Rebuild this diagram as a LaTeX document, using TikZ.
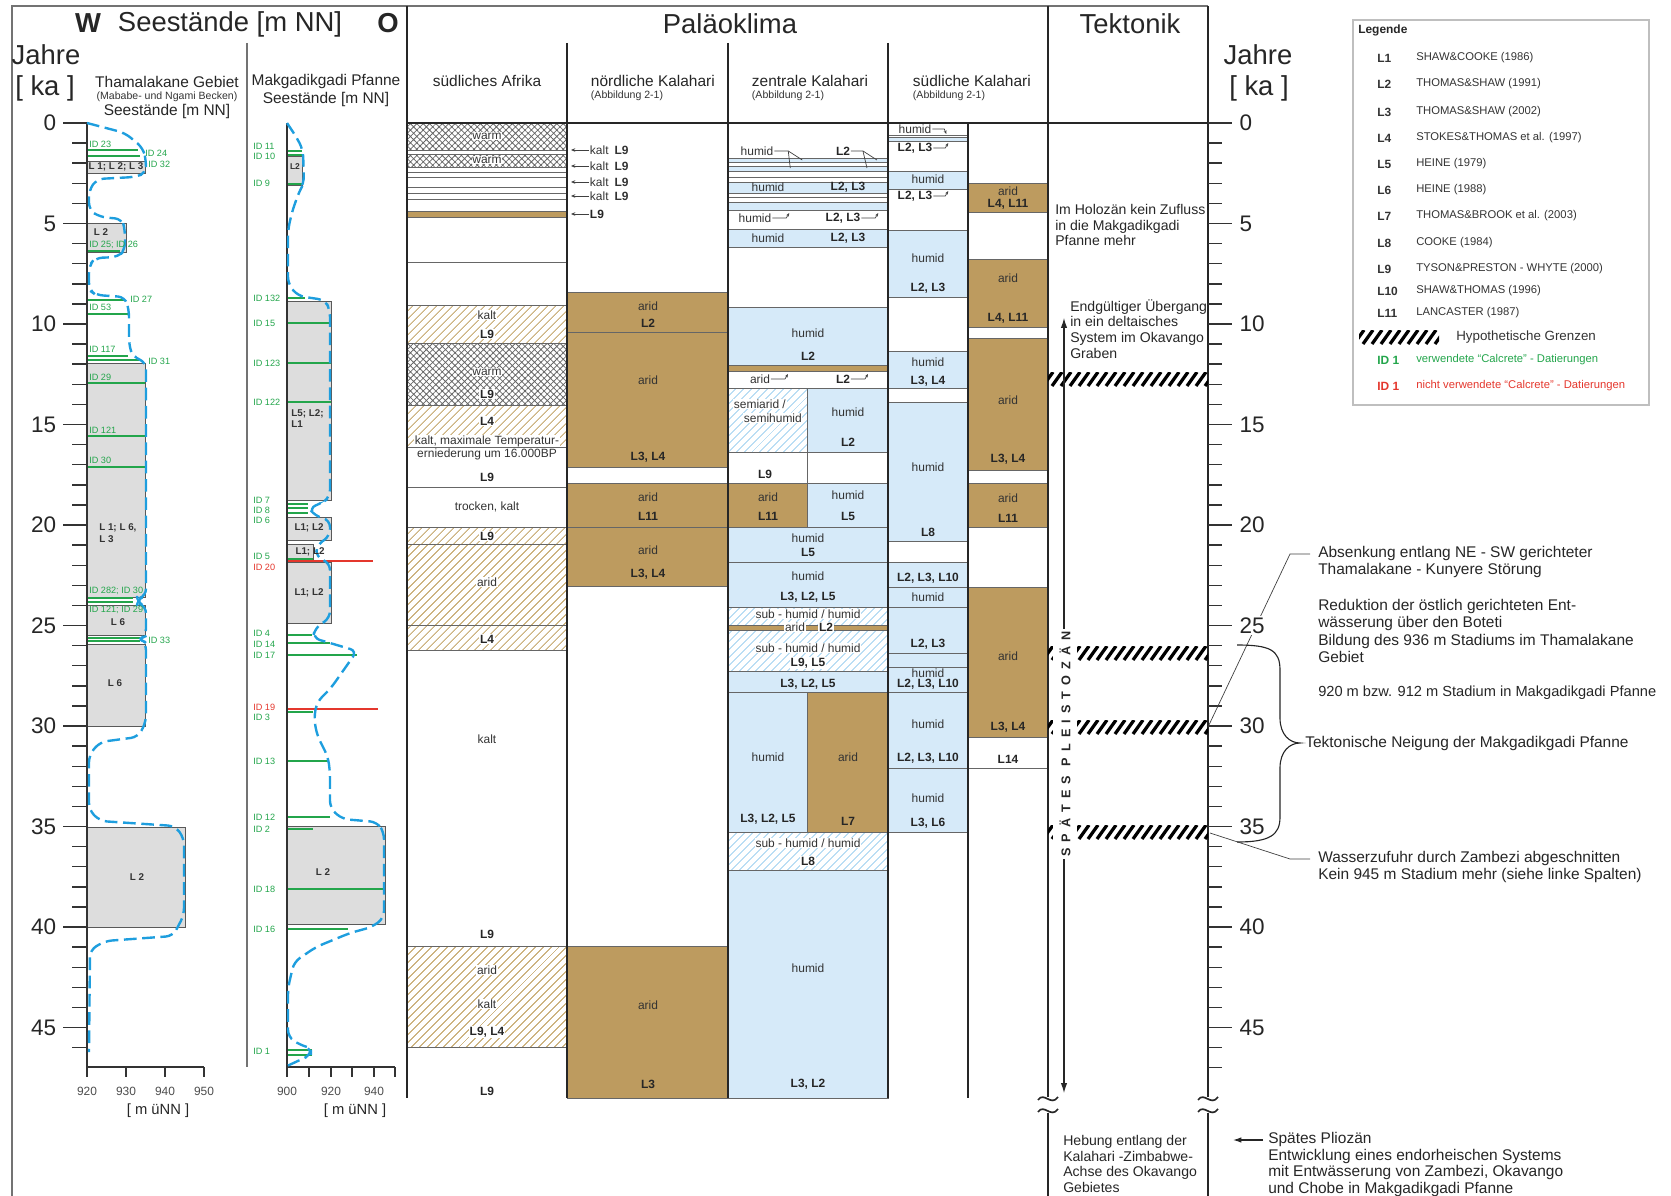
\documentclass[tikz,border=0pt]{standalone}
\usepackage{fontspec}
\setmainfont{Liberation Sans}
\usetikzlibrary{arrows.meta}
\usetikzlibrary{patterns.meta}
\definecolor{aridbraun}{RGB}{189,155,95}
\definecolor{humidblau}{RGB}{214,234,249}
\definecolor{hatchblau}{RGB}{150,205,238}
\definecolor{hatchbraun}{RGB}{205,180,130}
\definecolor{seeblau}{RGB}{30,158,222}
\definecolor{idgruen}{RGB}{35,165,75}
\definecolor{idrot}{RGB}{228,55,45}
\definecolor{kastengrau}{RGB}{221,221,221}
\tikzset{
	aridstyle/.style={fill=aridbraun,draw=black!60,line width=0.6pt},
	humidstyle/.style={fill=humidblau,draw=black!60,line width=0.6pt},
	leerstyle/.style={draw=black!60,line width=0.6pt},
	subhumidstyle/.style={draw=black!60,line width=0.6pt,pattern={Lines[angle=45,distance=4pt,line width=0.7pt]},pattern color=hatchblau},
	kaltstyle/.style={draw=black!60,line width=0.6pt,pattern={Lines[angle=45,distance=4pt,line width=0.8pt]},pattern color=hatchbraun},
	warmstyle/.style={draw=black!60,line width=0.6pt,pattern={Hatch[angle=45,distance=3.2pt,line width=0.55pt]},pattern color=black!60},
	seekasten/.style={fill=kastengrau,draw=black!65,line width=0.7pt},
	seekurve/.style={draw=seeblau,line width=1.7pt,dash pattern=on 9pt off 4pt,rounded corners=5pt},
	idlinie/.style={draw=idgruen,line width=0.8pt},
	idrotlinie/.style={draw=idrot,line width=0.8pt},
	idtext/.style={text=idgruen,font=\fontsize{6.5}{7}\selectfont,inner sep=0pt},
	idrottext/.style={text=idrot,font=\fontsize{6.5}{7}\selectfont,inner sep=0pt},
	kastentext/.style={font=\fontsize{7}{8}\selectfont\bfseries,text=black!80,inner sep=0pt},
	zelltext/.style={font=\fontsize{8.5}{9}\selectfont,text=black!80,inner sep=0.5pt},
	lzelltext/.style={font=\fontsize{8.5}{9}\selectfont\bfseries,text=black!85,inner sep=0.5pt},
	weiss/.style={fill=white},
	spalte/.style={draw=black!85,line width=1.4pt},
	trenner/.style={draw=black!55,line width=1pt},
	achse/.style={draw=black!80,line width=1pt},
	titeltext/.style={font=\fontsize{19.5}{22}\selectfont,text=black!85},
	kopftext/.style={font=\fontsize{11}{12.5}\selectfont,text=black!85},
	kleintext/.style={font=\fontsize{7.5}{8}\selectfont,text=black!80},
	notiztext/.style={font=\fontsize{10}{11.2}\selectfont,text=black!85,align=left,inner sep=0pt},
	randtext/.style={font=\fontsize{11}{12.3}\selectfont,text=black!85,align=left,inner sep=0pt},
	achsentext/.style={font=\fontsize{16}{18}\selectfont,text=black!85},
	skalatext/.style={font=\fontsize{8.5}{9}\selectfont,text=black!70},
	legtext/.style={font=\fontsize{8}{9}\selectfont,text=black!80,anchor=west,inner sep=0pt},
	leiter/.style={draw=black!75,line width=0.5pt},
	pfeilchen/.style={leiter,-{Stealth[length=2.5pt,width=2pt]}},
	grenzstrich/.style={line width=2.3pt,draw=black}
}
\newcommand{\grenze}[3]{%
	\begin{scope}
		\clip (#1,#3-7) rectangle (#2,#3+7);
		\foreach \k in {0,...,20}
			\draw[grenzstrich] ({#1+9*\k-5},{#3+7}) -- ({#1+9*\k+5},{#3-7});
	\end{scope}}
\newcommand{\welle}[2]{%
	\draw[line width=1.2pt,draw=black!85] (#1-10,#2+1) .. controls (#1-4,#2-8) and (#1+3,#2+8) .. (#1+10,#2-2);}

\begin{document}
\begin{tikzpicture}[x=0.025cm,y=-0.025cm]
	\useasboundingbox (0,0) rectangle (1671,1196);
	% Rahmen und Kopf
	\draw[trenner] (12,1196) -- (12,6) -- (1208,6);
	\node[titeltext] (titelW) at (88,23) {\bfseries W};
	\node[titeltext,anchor=west] (titelSee) at (113,24) {Seestände [m NN]};
	\node[titeltext] (titelO) at (388,23) {\bfseries O};
	\node[titeltext] (titelKlima) at (730,24) {Paläoklima};
	\node[titeltext] (titelTekt) at (1130,24) {Tektonik};
	\node[titeltext] (jahreL) at (46,55) {Jahre};
	\node[titeltext] (kaL) at (45,88) {[ ka ]};
	\node[titeltext] (jahreR) at (1258,55) {Jahre};
	\node[titeltext] (kaR) at (1259,88) {[ ka ]};
	\node[kopftext] (thamaKopf) at (167,82) {Thamalakane Gebiet};
	\node[kleintext] (thamaKlein) at (167,97) {(Mababe- und Ngami Becken)};
	\node[kopftext] (thamaSee) at (167,112) {Seestände [m NN]};
	\node[kopftext] (makgaKopf) at (326,82) {Makgadikgadi Pfanne};
	\node[kopftext] (makgaSee) at (326,100) {Seestände [m NN]};
	\node[kopftext] (saKopf) at (487,81) {südliches Afrika};
	\node[kopftext,anchor=west] (nkKopf) at (586,81) {nördliche Kalahari};
	\node[kleintext,anchor=west] (nkAbb) at (586,96) {(Abbildung 2-1)};
	\node[kopftext,anchor=west] (zkKopf) at (747,81) {zentrale Kalahari};
	\node[kleintext,anchor=west] (zkAbb) at (747,96) {(Abbildung 2-1)};
	\node[kopftext,anchor=west] (skKopf) at (908,81) {südliche Kalahari};
	\node[kleintext,anchor=west] (skAbb) at (908,96) {(Abbildung 2-1)};

	% suedliches Afrika
	\draw[warmstyle] (407,123) rectangle (567,150);
	\draw[warmstyle] (407,154) rectangle (567,167);
	\foreach \ly in {172,177,187,193,199,262} \draw[leerstyle] (407,\ly) -- (567,\ly);
	\draw[aridstyle] (407,211) rectangle (567,217);
	\draw[kaltstyle] (407,305) rectangle (567,343);
	\draw[warmstyle] (407,343) rectangle (567,405);
	\draw[kaltstyle] (407,405) rectangle (567,447);
	\draw[leerstyle] (407,487) rectangle (567,527);
	\draw[kaltstyle] (407,527) rectangle (567,544);
	\draw[kaltstyle] (407,544) rectangle (567,625);
	\draw[kaltstyle] (407,625) rectangle (567,650);
	\draw[kaltstyle] (407,946) rectangle (567,1047);
	% noerdliche Kalahari
	\draw[aridstyle] (567,292) rectangle (728,332);
	\draw[aridstyle] (567,332) rectangle (728,467);
	\draw[aridstyle] (567,483) rectangle (728,527);
	\draw[aridstyle] (567,527) rectangle (728,586);
	\draw[aridstyle] (567,946) rectangle (728,1098);
	% zentrale Kalahari
	\draw[humidstyle] (728,158) rectangle (888,162);
	\draw[humidstyle] (728,166) rectangle (888,171);
	\draw[leerstyle] (728,177) -- (888,177);
	\draw[humidstyle] (728,182) rectangle (888,193);
	\draw[leerstyle] (728,197) -- (888,197);
	\draw[humidstyle] (728,202) rectangle (888,210);
	\draw[humidstyle] (728,229) rectangle (888,247);
	\draw[humidstyle] (728,307) rectangle (888,365);
	\draw[aridstyle] (728,365) rectangle (888,371);
	\draw[leerstyle] (728,388) -- (888,388);
	\draw[subhumidstyle] (728,388) rectangle (807,452);
	\draw[humidstyle] (807,388) rectangle (888,452);
	\draw[leerstyle] (807,452) -- (807,483);
	\draw[aridstyle] (728,483) rectangle (807,527);
	\draw[humidstyle] (807,483) rectangle (888,527);
	\draw[humidstyle] (728,527) rectangle (888,562);
	\draw[humidstyle] (728,562) rectangle (888,607);
	\draw[subhumidstyle] (728,607) rectangle (888,625);
	\draw[aridstyle] (728,625) rectangle (888,630);
	\draw[subhumidstyle] (728,630) rectangle (888,671);
	\draw[humidstyle] (728,671) rectangle (888,692);
	\draw[humidstyle] (728,692) rectangle (807,832);
	\draw[aridstyle] (807,692) rectangle (888,832);
	\draw[subhumidstyle] (728,832) rectangle (888,870);
	\draw[humidstyle] (728,870) rectangle (888,1098);
	% suedliche Kalahari
	\draw[leerstyle] (888,135) -- (968,135);
	\draw[humidstyle] (888,137) rectangle (968,141);
	\draw[humidstyle] (888,171) rectangle (968,189);
	\draw[humidstyle] (888,230) rectangle (968,297);
	\draw[humidstyle] (888,351) rectangle (968,388);
	\draw[humidstyle] (888,402) rectangle (968,541);
	\draw[humidstyle] (888,562) rectangle (968,587);
	\draw[humidstyle] (888,587) rectangle (968,607);
	\draw[humidstyle] (888,607) rectangle (968,653);
	\draw[humidstyle] (888,653) rectangle (968,667);
	\draw[humidstyle] (888,667) rectangle (968,692);
	\draw[humidstyle] (888,692) rectangle (968,768);
	\draw[humidstyle] (888,768) rectangle (968,832);
	\draw[aridstyle] (968,183) rectangle (1048,212);
	\draw[aridstyle] (968,259) rectangle (1048,327);
	\draw[aridstyle] (968,338) rectangle (1048,470);
	\draw[aridstyle] (968,483) rectangle (1048,527);
	\draw[aridstyle] (968,587) rectangle (1048,737);
	\draw[leerstyle] (968,768) -- (1048,768);

	% Spaltenlinien
	\draw[spalte] (407,6) -- (407,1098);
	\foreach \sx in {567,728,888} \draw[spalte] (\sx,43) -- (\sx,1098);
	\draw[spalte] (968,123) -- (968,1098);
	\draw[spalte] (1048,6) -- (1048,1097);
	\draw[spalte] (1048,1113) -- (1048,1196);
	\draw[spalte] (1208,6) -- (1208,1097);
	\draw[spalte] (1208,1113) -- (1208,1196);
	\draw[spalte] (407,123) -- (1208,123);
	\welle{1048}{1099}
	\welle{1048}{1111}
	\welle{1208}{1099}
	\welle{1208}{1111}

	% Texte suedliches Afrika
	\node[zelltext,weiss] (saWarm1) at (487,136) {warm};
	\node[zelltext,weiss] (saWarm2) at (487,160) {warm};
	\node[zelltext,weiss] (saKalt1) at (487,315) {kalt};
	\node[lzelltext,weiss] (saL9a) at (487,334) {L9};
	\node[zelltext,weiss] (saWarm3) at (487,372) {warm};
	\node[lzelltext,weiss] (saL9b) at (487,394) {L9};
	\node[lzelltext,weiss] (saL4a) at (487,421) {L4};
	\node[zelltext,weiss] (saMax1) at (487,441) {kalt, maximale Temperatur-};
	\node[zelltext] (saMax2) at (487,454) {erniederung um 16.000BP};
	\node[lzelltext] (saL9c) at (487,477) {L9};
	\node[zelltext] (saTrocken) at (487,507) {trocken, kalt};
	\node[lzelltext,weiss] (saL9d) at (487,536) {L9};
	\node[zelltext,weiss] (saArid1) at (487,582) {arid};
	\node[lzelltext,weiss] (saL4b) at (487,639) {L4};
	\node[zelltext] (saKalt2) at (487,739) {kalt};
	\node[lzelltext] (saL9e) at (487,934) {L9};
	\node[zelltext,weiss] (saArid2) at (487,970) {arid};
	\node[zelltext,weiss] (saKalt3) at (487,1004) {kalt};
	\node[lzelltext,weiss] (saL9L4) at (487,1032) {L9, L4};
	\node[lzelltext] (saL9f) at (487,1091) {L9};

	% Texte noerdliche Kalahari
	\foreach \i/\ky in {1/150,2/166,3/182,4/196} {
		\node[zelltext,anchor=west] (nkKalt\i) at (589,\ky) {kalt\enspace\textbf{L9}};
		\draw[leiter,-{Stealth[length=3pt,width=2.5pt]}] (nkKalt\i.west) -- ++(-18,0);
	}
	\node[lzelltext,anchor=west] (nkL9) at (589,214) {L9};
	\draw[leiter,-{Stealth[length=3pt,width=2.5pt]}] (nkL9.west) -- ++(-18,0);
	\node[zelltext] (nkArid1) at (648,306) {arid};
	\node[lzelltext] (nkL2) at (648,323) {L2};
	\node[zelltext] (nkArid2) at (648,380) {arid};
	\node[lzelltext] (nkL3L4a) at (648,457) {L3, L4};
	\node[zelltext] (nkArid3) at (648,497) {arid};
	\node[lzelltext] (nkL11) at (648,516) {L11};
	\node[zelltext] (nkArid4) at (648,550) {arid};
	\node[lzelltext] (nkL3L4b) at (648,574) {L3, L4};
	\node[zelltext] (nkArid5) at (648,1005) {arid};
	\node[lzelltext] (nkL3) at (648,1084) {L3};

	% Texte zentrale Kalahari
	\node[zelltext] (zkHumid1) at (757,151) {humid};
	\draw[leiter] (zkHumid1.east) -- ++(14,0) coordinate (zkGabel1) -- ++(14,9);
	\draw[leiter] (zkGabel1) -- ++(2,17);
	\node[lzelltext] (zkL2a) at (843,151) {L2};
	\draw[leiter] (zkL2a.east) -- ++(12,0) coordinate (zkGabel2) -- ++(14,9);
	\draw[leiter] (zkGabel2) -- ++(4,17);
	\node[zelltext] (zkHumid2) at (768,187) {humid};
	\node[lzelltext] (zkL2L3a) at (848,187) {L2, L3};
	\node[zelltext] (zkHumid3) at (755,218) {humid};
	\draw[pfeilchen] (zkHumid3.east) -- ++(14,0) -- ++(3,-5);
	\node[lzelltext] (zkL2L3b) at (843,218) {L2, L3};
	\draw[pfeilchen] (zkL2L3b.east) -- ++(14,0) -- ++(3,-5);
	\node[zelltext] (zkHumid4) at (768,238) {humid};
	\node[lzelltext] (zkL2L3c) at (848,238) {L2, L3};
	\node[zelltext] (zkHumid5) at (808,333) {humid};
	\node[lzelltext] (zkL2b) at (808,356) {L2};
	\node[zelltext] (zkArid1) at (760,379) {arid};
	\draw[pfeilchen] (zkArid1.east) -- ++(14,0) -- ++(3,-5);
	\node[lzelltext] (zkL2c) at (843,379) {L2};
	\draw[pfeilchen] (zkL2c.east) -- ++(14,0) -- ++(3,-5);
	\node[zelltext,weiss,anchor=west] (zkSemi1) at (733,404) {semiarid /};
	\node[zelltext,weiss,anchor=west] (zkSemi2) at (743,418) {semihumid};
	\node[zelltext] (zkHumid6) at (848,412) {humid};
	\node[lzelltext] (zkL2d) at (848,442) {L2};
	\node[lzelltext] (zkL9) at (765,474) {L9};
	\node[zelltext] (zkArid2) at (768,497) {arid};
	\node[lzelltext] (zkL11) at (768,516) {L11};
	\node[zelltext] (zkHumid7) at (848,495) {humid};
	\node[lzelltext] (zkL5a) at (848,516) {L5};
	\node[zelltext] (zkHumid8) at (808,538) {humid};
	\node[lzelltext] (zkL5b) at (808,552) {L5};
	\node[zelltext] (zkHumid9) at (808,576) {humid};
	\node[lzelltext] (zkL3L2L5a) at (808,597) {L3, L2, L5};
	\node[zelltext,weiss] (zkSub1) at (808,614) {sub - humid / humid};
	\node[zelltext,weiss] (zkArid3) at (795,627) {arid};
	\node[lzelltext,weiss] (zkL2e) at (826,627) {L2};
	\node[zelltext,weiss] (zkSub2) at (808,648) {sub - humid / humid};
	\node[lzelltext,weiss] (zkL9L5) at (808,663) {L9, L5};
	\node[lzelltext] (zkL3L2L5b) at (808,684) {L3, L2, L5};
	\node[zelltext] (zkHumid10) at (768,757) {humid};
	\node[lzelltext] (zkL3L2L5c) at (768,819) {L3, L2, L5};
	\node[zelltext] (zkArid4) at (848,757) {arid};
	\node[lzelltext] (zkL7) at (848,821) {L7};
	\node[zelltext,weiss] (zkSub3) at (808,843) {sub - humid / humid};
	\node[lzelltext,weiss] (zkL8) at (808,861) {L8};
	\node[zelltext] (zkHumid11) at (808,968) {humid};
	\node[lzelltext] (zkL3L2) at (808,1084) {L3, L2};

	% Texte suedliche Kalahari
	\node[zelltext] (skHumid1) at (915,129) {humid};
	\draw[pfeilchen] (skHumid1.east) -- ++(12,0) -- ++(2,5);
	\node[lzelltext] (skL2L3a) at (915,148) {L2, L3};
	\draw[pfeilchen] (skL2L3a.east) -- ++(12,0) -- ++(3,-5);
	\node[zelltext] (skHumid2) at (928,179) {humid};
	\node[lzelltext] (skL2L3b) at (915,196) {L2, L3};
	\draw[pfeilchen] (skL2L3b.east) -- ++(12,0) -- ++(3,-5);
	\node[zelltext] (skHumid3) at (928,258) {humid};
	\node[lzelltext] (skL2L3c) at (928,288) {L2, L3};
	\node[zelltext] (skHumid4) at (928,362) {humid};
	\node[lzelltext] (skL3L4) at (928,381) {L3, L4};
	\node[zelltext] (skHumid5) at (928,467) {humid};
	\node[lzelltext] (skL8) at (928,532) {L8};
	\node[lzelltext] (skL10a) at (928,578) {L2, L3, L10};
	\node[zelltext] (skHumid6) at (928,597) {humid};
	\node[lzelltext] (skL2L3d) at (928,644) {L2, L3};
	\node[zelltext] (skHumid7) at (928,673) {humid};
	\node[lzelltext] (skL10b) at (928,684) {L2, L3, L10};
	\node[zelltext] (skHumid8) at (928,724) {humid};
	\node[lzelltext] (skL10c) at (928,758) {L2, L3, L10};
	\node[zelltext] (skHumid9) at (928,798) {humid};
	\node[lzelltext] (skL3L6) at (928,823) {L3, L6};
	\node[zelltext] (skArid1) at (1008,191) {arid};
	\node[lzelltext] (skL4L11a) at (1008,204) {L4, L11};
	\node[zelltext] (skArid2) at (1008,278) {arid};
	\node[lzelltext] (skL4L11b) at (1008,318) {L4, L11};
	\node[zelltext] (skArid3) at (1008,400) {arid};
	\node[lzelltext] (skL3L4b) at (1008,459) {L3, L4};
	\node[zelltext] (skArid4) at (1008,498) {arid};
	\node[lzelltext] (skL11) at (1008,518) {L11};
	\node[zelltext] (skArid5) at (1008,656) {arid};
	\node[lzelltext] (skL3L4c) at (1008,727) {L3, L4};
	\node[lzelltext] (skL14) at (1008,759) {L14};

	% Tektonik
	\grenze{1048}{1208}{379}
	\grenze{1048}{1208}{653}
	\grenze{1048}{1208}{727}
	\grenze{1048}{1208}{832}
	\node[notiztext,anchor=north west] (holozaen) at (1055,204) {Im Holozän kein Zufluss\\in die Makgadikgadi\\Pfanne mehr};
	\node[notiztext,anchor=north west] (uebergang) at (1070,299) {Endgültiger Übergang\\in ein deltaisches\\System im Okavango\\Graben};
	\coordinate (pleistoOben) at (1064,318);
	\coordinate (pleistoUnten) at (1064,1093);
	\draw[black!85,line width=0.8pt,{Latex[length=7pt,width=4.5pt]}-{Latex[length=7pt,width=4.5pt]}] (pleistoOben) -- (pleistoUnten);
	\node[rotate=90,fill=white,font=\fontsize{9}{10}\selectfont\bfseries\addfontfeature{LetterSpace=48},text=black!85,inner xsep=2pt,inner ysep=4.5pt] (pleisto) at (1065,744) {SPÄTES PLEISTOZÄN};
	\node[notiztext,anchor=north west] (hebung) at (1063,1135) {Hebung entlang der\\Kalahari -Zimbabwe-\\Achse des Okavango\\Gebietes};

	% rechte Zeitachse
	\foreach \a in {0,...,47} \draw[achse] (1208,{123+20.1*\a}) -- (1222,{123+20.1*\a});
	\coordinate (absAnfang) at (1310,554);
	\coordinate (absKnick) at (1290,554);
	\coordinate (absEnde) at (1208,727);
	\draw[leiter] (absAnfang) -- (absKnick) -- (absEnde);
	\foreach \a in {0,5,...,45} {
		\draw[achse] (1208,{123+20.1*\a}) -- (1232,{123+20.1*\a});
		\node[achsentext,anchor=west,fill=white,inner sep=1pt] (rechts\a) at (1238,{123+20.1*\a}) {\a};
	}

	% Anmerkungen rechts
	\node[randtext,anchor=north west] (absenkung) at (1318,546) {Absenkung entlang NE - SW gerichteter\\Thamalakane - Kunyere  Störung};
	\node[randtext,anchor=north west] (reduktion) at (1318,599) {Reduktion der östlich gerichteten Ent-\\wässerung über den Boteti\\Bildung des 936 m Stadiums im Thamalakane\\Gebiet};
	\node[randtext,font=\fontsize{10.4}{12.3}\selectfont,anchor=west] (stadium) at (1318,693) {920 m bzw. 912 m Stadium in Makgadikgadi Pfanne};
	\draw[black!85,line width=0.8pt] (1237,645) .. controls (1270,645) and (1280,650) .. (1280,670) -- (1280,718) .. controls (1280,735) and (1290,743) .. (1300,743) .. controls (1290,743) and (1280,751) .. (1280,768) -- (1280,817) .. controls (1280,835) and (1270,842) .. (1237,842);
	\node[randtext,anchor=west] (neigung) at (1305,743) {Tektonische Neigung der Makgadikgadi Pfanne};
	\node[randtext,anchor=north west] (wasser) at (1318,851) {Wasserzufuhr durch Zambezi abgeschnitten\\Kein 945 m Stadium mehr (siehe linke Spalten)};
	\coordinate (wasAnfang) at (1310,859);
	\coordinate (wasKnick) at (1290,859);
	\coordinate (wasEnde) at (1210,833);
	\draw[leiter] (wasAnfang) -- (wasKnick) -- (wasEnde);
	\node[notiztext,font=\fontsize{11}{11.9}\selectfont,anchor=north west] (pliozaen) at (1268,1132) {Spätes Pliozän\\Entwicklung eines endorheischen Systems\\mit Entwässerung von Zambezi, Okavango\\und Chobe in Makgadikgadi Pfanne};
	\coordinate (pliozaenAnfang) at (1263,1140);
	\draw[black!85,line width=0.8pt,-{Latex[length=6pt,width=4pt]}] (pliozaenAnfang) -- ++(-30,0) coordinate (pliozaenPfeil);

	% Legende
	\draw[draw=black!25,line width=0.8pt] (1353,20) rectangle (1649,405);
	\node[font=\fontsize{8.5}{10}\selectfont\bfseries,text=black!85,anchor=west,inner sep=0pt] (legKopf) at (1358,30) {Legende};
	\foreach \legname/\legy/\legtext in {L1/58/SHAW\&COOKE (1986),L2/84/THOMAS\&SHAW (1991),L3/112/THOMAS\&SHAW (2002),L4/138/STOKES\&THOMAS et al. (1997),L5/164/HEINE (1979),L6/190/HEINE (1988),L7/216/THOMAS\&BROOK et al. (2003),L8/243/COOKE (1984),L9/269/TYSON\&PRESTON - WHYTE (2000),L10/291/SHAW\&THOMAS (1996),L11/313/LANCASTER (1987)} {
		\node[legtext,font=\fontsize{8.5}{9}\selectfont\bfseries] (leg\legname) at (1377,\legy) {\legname};
		\node[legtext] (legT\legname) at (1416,\legy) {\legtext};
	}
	\grenze{1359}{1439}{337}
	\node[legtext,font=\fontsize{9.5}{10}\selectfont] (legHypo) at (1456,337) {Hypothetische Grenzen};
	\node[legtext,text=idgruen,font=\fontsize{8.5}{9}\selectfont\bfseries] (legIDg) at (1377,360) {ID 1};
	\node[legtext,text=idgruen] (legIDgText) at (1416,360) {verwendete “Calcrete” - Datierungen};
	\node[legtext,text=idrot,font=\fontsize{8.5}{9}\selectfont\bfseries] (legIDr) at (1377,386) {ID 1};
	\node[legtext,text=idrot] (legIDrText) at (1416,386) {nicht verwendete “Calcrete” - Datierungen};

	% linke Zeitachse
	\foreach \a in {0,...,46} \draw[achse] (72,{123+20.1*\a}) -- (87,{123+20.1*\a});
	\foreach \a in {0,5,...,45} {
		\draw[achse] (63,{123+20.1*\a}) -- (87,{123+20.1*\a});
		\node[achsentext,anchor=east] (links\a) at (61,{123+20.1*\a}) {\a};
	}
	\draw[trenner] (247,43) -- (247,1067);

	% Thamalakane Seestaende
	\draw[seekasten] (87,161) rectangle (145,173);
	\draw[seekasten] (87,223) rectangle (126,252);
	\draw[seekasten] (87,363) rectangle (145,597);
	\draw[seekasten] (87,605) rectangle (145,635);
	\draw[seekasten] (87,644) rectangle (145,726);
	\draw[seekasten] (87,827) rectangle (185,927);
	\foreach \ly/\lx in {150/138,156/140,251/120,300/125,314/128,356/128,360/140,383/145,436/145,467/145,598/133,602/133,638/140,641/140}
		\draw[idlinie] (87,\ly) -- (\lx,\ly);
	\draw[achse] (87,123) -- (87,1067) -- (204,1067);
	\draw[seekurve] (87,123) -- (125,133) -- (143,148) -- (146,160) -- (146,173) -- (135,177) -- (97,179) -- (89,190) -- (89,210) -- (100,217) -- (122,219) -- (125,230) -- (125,250) -- (118,257) -- (95,258) -- (89,266) -- (89,290) -- (96,295) -- (125,297) -- (129,310) -- (129,345) -- (133,357) -- (146,362) -- (146,596) -- (137,599) -- (137,603) -- (146,606) -- (146,636) -- (140,639) -- (146,643) -- (146,722) -- (138,737) -- (100,742) -- (89,755) -- (89,810) -- (100,821) -- (175,826) -- (184,838) -- (184,915) -- (173,936) -- (105,941) -- (90,950) -- (89,1052);
	\node[kastentext] (thL123) at (116,167) {L 1; L 2; L 3};
	\node[kastentext] (thL2a) at (101,232) {L 2};
	\node[kastentext,align=left,anchor=west] (thL163) at (99,533) {L 1; L 6,\\L 3};
	\node[kastentext] (thL6a) at (118,622) {L 6};
	\node[kastentext] (thL6b) at (115,683) {L 6};
	\node[kastentext] (thL2b) at (137,877) {L 2};
	\foreach \tname/\tx/\ty/\ttext in {t23/89/144/ID 23,t24/145/153/ID 24,t32/148/164/ID 32,t25/89/245/ID 25; ID 26,t27/130/299/ID 27,t53/89/307/ID 53,t117/89/349/ID 117,t31/148/361/ID 31,t29/89/377/ID 29,t121/89/430/ID 121,t30/89/460/ID 30,t282/89/591/ID 282; ID 30,t12129/89/610/ID 121; ID 29,t33/148/640/ID 33}
		\node[idtext,anchor=west] (\tname) at (\tx,\ty) {\ttext};
	\foreach \mx/\m in {87/920,126/930,165/940,204/950} {
		\draw[achse] (\mx,1067) -- (\mx,1077);
		\node[skalatext] (thSkala\m) at (\mx,1091) {\m};
	}
	\node[kopftext,font=\fontsize{10.5}{12}\selectfont] (thEinheit) at (158,1111) {[ m üNN ]};

	% Makgadikgadi Seestaende
	\draw[seekasten] (287,156) rectangle (302,185);
	\draw[seekasten] (287,301) rectangle (331,500);
	\draw[seekasten] (287,517) rectangle (331,540);
	\draw[seekasten] (287,544) rectangle (313,559);
	\draw[seekasten] (287,562) rectangle (331,623);
	\draw[seekasten] (287,826) rectangle (385,924);
	\foreach \ly/\lx in {151/302,155/302,184/302,298/305,323/331,363/331,402/331,504/308,508/308,513/308,559/313,635/312,643/330,655/357,712/313,761/328,817/330,829/313,889/385,929/348,1050/312,1055/312}
		\draw[idlinie] (287,\ly) -- (\lx,\ly);
	\draw[idrotlinie] (287,561) -- (373,561);
	\draw[idrotlinie] (287,709) -- (378,709);
	\draw[achse] (287,123) -- (287,1067) -- (395,1067);
	\draw[seekurve] (287,123) -- (297,138) -- (303,150) -- (304,183) -- (299,192) -- (292,212) -- (288,230) -- (288,284) -- (298,296) -- (325,300) -- (330,310) -- (330,497) -- (322,503) -- (309,508) -- (315,516) -- (330,520) -- (330,536) -- (317,545) -- (316,557) -- (330,563) -- (330,618) -- (315,628) -- (313,638) -- (330,643) -- (357,651) -- (331,688) -- (317,702) -- (314,718) -- (317,735) -- (328,757) -- (330,772) -- (330,808) -- (342,819) -- (377,822) -- (384,832) -- (384,918) -- (372,927) -- (350,933) -- (316,947) -- (294,962) -- (288,988) -- (288,1037) -- (300,1045) -- (311,1048) -- (311,1055) -- (300,1060) -- (287,1066);
	\node[kastentext,font=\fontsize{6}{7}\selectfont\bfseries] (mkL2a) at (295,167) {L2};
	\node[kastentext,align=left,anchor=north west] (mkL521) at (291,409) {L5; L2;\\L1};
	\node[kastentext] (mkL12a) at (309,528) {L1; L2};
	\node[kastentext] (mkL12b) at (310,552) {L1; L2};
	\node[kastentext] (mkL12c) at (309,593) {L1; L2};
	\node[kastentext] (mkL2b) at (323,872) {L 2};
	\foreach \mname/\my/\mtext in {m11/146/ID 11,m10/156/ID 10,m9/183/ID 9,m132/298/ID 132,m15/323/ID 15,m123/363/ID 123,m122/402/ID 122,m7/500/ID 7,m8/510/ID 8,m6/520/ID 6,m5/556/ID 5,m4/633/ID 4,m14/644/ID 14,m17/655/ID 17,m3/717/ID 3,m13/761/ID 13,m12/817/ID 12,m2/829/ID 2,m18/889/ID 18,m16/929/ID 16,m1/1051/ID 1}
		\node[idtext,anchor=west] (\mname) at (253,\my) {\mtext};
	\node[idrottext,anchor=west] (m20) at (253,567) {ID 20};
	\node[idrottext,anchor=west] (m19) at (253,707) {ID 19};
	\foreach \mx in {287,309,331,352,374,395} \draw[achse] (\mx,1067) -- (\mx,1077);
	\foreach \mx/\m in {287/900,331/920,374/940}
		\node[skalatext] (mkSkala\m) at (\mx,1091) {\m};
	\node[kopftext,font=\fontsize{10.5}{12}\selectfont] (mkEinheit) at (355,1111) {[ m üNN ]};
\end{tikzpicture}
\end{document}
